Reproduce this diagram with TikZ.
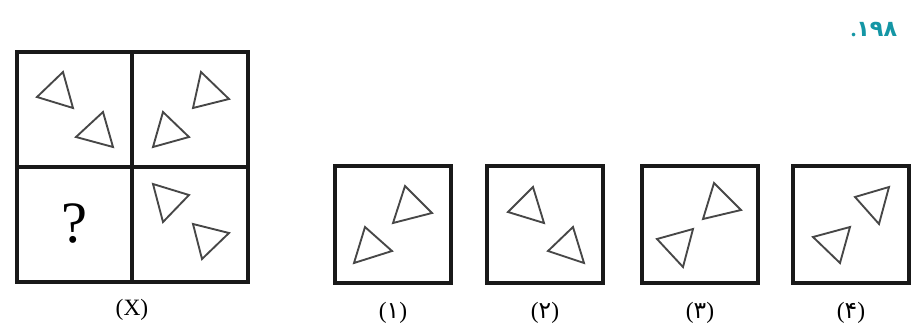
\documentclass[tikz,border=0pt]{standalone}
\usepackage{fontspec}
\setmainfont{Liberation Serif}
\newfontfamily\arabicfont[Script=Arabic]{DejaVu Sans}
\usepackage{tikz}
\definecolor{titleteal}{RGB}{20,150,165}

\begin{document}
\begin{tikzpicture}[
    x=0.03cm, y=-0.03cm,
    frame/.style={draw=black!90, line width=2.8pt},
    tri/.style={draw=black!72, line width=1.6pt, line join=miter},
    caption/.style={font=\fontsize{20}{22}\selectfont, inner sep=0pt},
    qmark/.style={font=\fontsize{50}{54}\selectfont, inner sep=0pt}
]
\useasboundingbox (0,0) rectangle (922,331);

% title
\node[font=\bfseries\fontsize{19}{21}\selectfont, text=titleteal, inner sep=0pt] (title) at (874,30) {.{\arabicfont ۱۹۸}};

% the 2x2 grid
\draw[frame] (17,52) rectangle (248,282);
\draw[frame] (132,52) -- (132,282);
\draw[frame] (17,167) -- (248,167);
\node[qmark] (ask) at (74,224) {?};
\node[caption] (capX) at (132,310) {(X)};

% grid triangles
\draw[tri] (37,97) -- (63,72) -- (73,108) -- cycle;
\draw[tri] (76,137) -- (103,112) -- (113,147) -- cycle;
\draw[tri] (201,72) -- (229,99) -- (193,108) -- cycle;
\draw[tri] (163,112) -- (189,137) -- (153,147) -- cycle;
\draw[tri] (153,184) -- (189,195) -- (163,222) -- cycle;
\draw[tri] (193,224) -- (229,233) -- (202,259) -- cycle;

% answer boxes
\foreach \lx/\digit [count=\i] in {335/۱, 487/۲, 642/۳, 793/۴} {
  \draw[frame] (\lx,166) rectangle ++(116,117);
  \node[caption] (cap\i) at (\lx+58,313) {({\arabicfont\digit})};
}

% answer triangles
\draw[tri] (405,186) -- (432,213) -- (393,223) -- cycle;
\draw[tri] (365,227) -- (392,251) -- (354,263) -- cycle;
\draw[tri] (533,187) -- (544,223) -- (508,212) -- cycle;
\draw[tri] (573,227) -- (584,263) -- (548,251) -- cycle;
\draw[tri] (714,183) -- (741,210) -- (703,219) -- cycle;
\draw[tri] (657,239) -- (693,229) -- (683,267) -- cycle;
\draw[tri] (855,197) -- (889,187) -- (879,224) -- cycle;
\draw[tri] (813,237) -- (850,227) -- (840,263) -- cycle;
\end{tikzpicture}
\end{document}
